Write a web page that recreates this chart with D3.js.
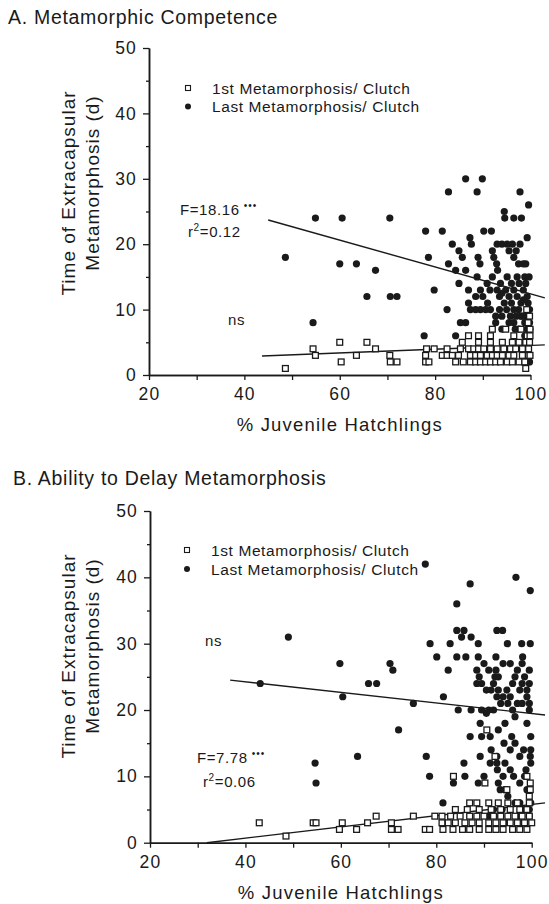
<!DOCTYPE html>
<html><head><meta charset="utf-8">
<script src="https://cdn.jsdelivr.net/npm/d3@7"></script>
<style>
html,body{margin:0;padding:0;background:#fff;}
text{font-family:"Liberation Sans",Arial,Helvetica,sans-serif;fill:#1a1a1a;}
</style></head>
<body>
<svg id="c" width="549" height="904"></svg>
<script>
// ---------- DATA ----------
const xTicks = [20,40,60,80,100];
const xMinor = [30,50,70,90];
const yTicks = [0,10,20,30,40,50];
const yMinor = [5,15,25,35,45];
const legendLabels = ["1st Metamorphosis/ Clutch","Last Metamorphosis/ Clutch"];
const titleA = "A.  Metamorphic Competence";
const titleB = "B.  Ability to Delay Metamorphosis";
const xLabel = "% Juvenile Hatchlings";
const yLabel1 = "Time  of Extracapsular";
const yLabel2 = "Metamorphosis (d)";

// Panel A: 1st metamorphosis (open squares)
const aFirst = [[48.6,1],[54.4,4],[54.9,3],[60,5],[60.3,2],[63.5,3],[65.7,5],[67.5,4],[70.5,3],[70.6,2],[72,2],[78,3],[78,2],[78.7,2],[78.2,4],[79.8,4],[81.5,3],[82.5,4],[82.5,3],[83.6,3],[84.3,2],[85.9,2],
[84.9,3],[85.3,4],[85.7,5],[87,6],[87,4],[87.4,3],[87.4,2],[88.1,4],[88.5,3],[88.5,2],[89.1,6],[89.1,5],[89.1,4],[89.5,3],[89.5,2],[90.2,4],[90.6,2],[90.9,3],[91.6,6],[91.6,5],[91.6,4],[91.6,2],[92,7],[92,3],[92.7,2],[93,4],[93,3],[93.7,2],[94.1,5],[94.1,3],[94.4,4],[94.8,7],[95.1,2],[95.5,3],[95.8,4],[96.2,5],[96.2,2],[96.5,6],[96.5,3],[96.9,4],[97.6,5],[97.6,2],[98,7],[98.3,4],[98.3,3],[99,5],[99,2],[99,1],[99.3,6],[99.6,4],[99.6,3],[99.5,8],[99.8,9],[99.2,10],[99.8,5],[98.8,2],[99.9,3],[99.9,6],[99.9,7]];
// Panel A: last metamorphosis (filled circles)
const aLast = [[48.6,18],[54.4,8],[54.9,24],[60.5,24],[60,17],[63.5,17],[65.7,12],[67.5,16],[70.5,24],[70.6,12],[72,12],[77.7,6],[78,22],[78.6,18],[79.8,13],[81.5,22],[82.5,10],[82.8,28],[82.8,17],[84.3,16],[84.3,6],[85,19],[85,14],[85.3,8],[85.7,18],[86.4,30],[86.4,16],[86.4,8],[87,13],[87,11],[87.3,21],[87.6,20],[83.6,20],[88.5,12],[88.8,28],[88.8,15],[89,18],[89.4,17],[89.9,30],[90.2,22],[90.9,14],[91.8,22],[92,19],[92.3,18],[92.9,17],[93.1,16],[93,20],[94,20],[95.1,20],[96.2,20],[97.8,20],[94.5,25],[94.6,24],[96.5,24],[98.1,24],[97.8,28],[99.6,26],[99.3,21],[95.1,15],[97.2,15],[93.7,14],[99,14],[94.8,13],[96.5,13],[98.5,13],[93.5,12],[95.5,12],[97.2,12],[99.3,12],[94.5,11],[96,11],[98,11],[99.5,11],[87.4,10],[88.5,10],[89.5,10],[90.6,10],[91.6,10],[95,10],[97.5,10],[99.5,10],[92.7,9],[95.8,9],[98.3,9],[99.6,9],[92.7,8],[96.5,8],[98.8,8],[99.8,8],[94,7],[97.6,7],[99.3,7],[99.9,7],[98.8,6],[99.5,6],[98.5,5],[99.6,5],[99,4],[97.5,17],[99,17],[96.5,18],
[99.8,2],[99.8,3],[99.8,10],[99.2,9],[98,9],[97,9],[96.8,7],[95.5,8],[94,9],[93.5,10],[91,11],[90,12],[89.5,13],[91.5,13],[92,15],[96,14],[97.6,14],[98.5,17],[95.5,19],[97,19],[98.8,15],[99.7,15],[94,12.5],[96.5,10],[98.5,11.5],[93,13]];
const aLineFirst = [[43.7,2.9],[103,4.6]];
const aLineLast = [[45,23.7],[103,11.8]];

// Panel B: 1st metamorphosis (open squares)
const bFirst = [[42.9,3],[48.5,1],[54.2,3],[54.8,3],[59.7,2],[60.3,3],[63.3,2],[65.6,3],[67.4,4],[70.6,3],[70.6,2],[72,2],[75.2,4],[77.7,2],[78.6,2],[79.7,4],[81.2,4],[81.2,3],[82.5,3],[81.4,2],[83.5,2],[85.5,2],[87,2],
[87,6],[88.5,6],[91,6],[93,6],[95,6],[97,6],[99.5,6],
[84,5],[86.5,5],[89,5],[91.5,5],[93.5,5],[95.5,5],[97.5,5],[99,5],
[83,4],[85,4],[87,4],[88.5,4],[90,4],[92,4],[93.5,4],[95,4],[96.5,4],[98,4],[99.5,4],
[84,3],[86,3],[87.5,3],[89,3],[91,3],[92.5,3],[94,3],[95.5,3],[97,3],[98.5,3],[100,3],
[89,2],[91,2],[92.5,2],[94,2],[96,2],[97.5,2],[99,2],
[83.6,10],[90.2,9],[92.3,13],[94.8,8],[99,10],[99.7,9],[99.7,8],[99.5,7],[90.6,17]];
// Panel B: last metamorphosis (filled circles)
const bLast = [[43.1,24],[49,31],[54.6,12],[54.8,9],[59.8,27],[60.4,22],[63.5,13],[65.8,24],[67.5,24],[70.3,27],[70.9,26],[72.1,17],[75.2,21],[77.7,42],[77.9,13],[78.6,10],[78.7,30],[80.1,28],[81.4,6],[81.5,22],[82.5,26],[82.9,30],[83.6,9],[84.3,36],[84.3,28],[84.3,32],[84.6,20],[85.3,31],[85.8,32],[85.8,12],[86,10],[86.2,28],[87.1,39],[87.1,16],[87.3,31],[87.3,20],[88.8,30],[88.8,28],[88.8,9],[89.2,18],[89.2,13],[89.5,16],[91.3,16],[91.3,12],[92.5,28],[92.7,32],[92.7,22],[92.7,13],[92.7,12],[92.8,11],[93,17],[93,9],[93.4,8],[93.9,32],[94.2,15],[94.4,18],[94.4,12],[94.4,8],[94.9,30],[95.8,16],[96.2,10],[96.5,15],[96.7,40],[97.9,30],[98.1,28],[98.3,14],[99,22],[99.7,38],[99.7,30],[99.7,13],
[88.5,26],[89,25],[89.5,24],[90.5,23],[91.5,23],[92,24],[92.3,25],[92.5,26],[93,25],[94.8,23],[96.5,25],[97,26],[98,24],[98.5,25],[99,23],[88.5,24],
[89.5,20],[90.5,19.5],[91,20],[92,20],[93.5,21],[95,21],[96,20],[98,21],[99.5,20],[99.5,21],[96.5,19],[99,18],
[91.5,14],[95.5,14],[97.5,13],[90,10],[98.5,10],[95,7],[97.5,6],[98.5,5],[99.5,5],[93.8,5],[92,5],[93.5,4],[96.5,6],[97.5,4],[98.5,3],[99.5,4],[99.8,6],[94.5,3],[96,2],[91,4],
[90,27],[91,26],[94,27],[95.5,27],[96,24],[97.5,23],[98,27],[99.5,26],[99.5,24],[93,23],[94,22],[95.5,22],[97,21],[99.8,16],[99.8,14],[99.8,12],[98.8,11],[97.5,9],[99,8],[95.5,11],[94,10]];
const bLineFirst = [[31.9,0],[102.8,6.0]];
const bLineLast = [[36.8,24.5],[102.8,19.25]];

// ---------- DRAW ----------
const svg = d3.select("#c");

function panel(cfg){
  const g = svg.append("g");
  const x = d3.scaleLinear().domain([20,100]).range(cfg.xr);
  const y = d3.scaleLinear().domain([0,50]).range(cfg.yr);
  const ink = "#1a1a1a";

  g.append("text").attr("x", cfg.titleX).attr("y", cfg.titleY)
    .attr("font-size", 19.5).attr("letter-spacing", 0.7).text(cfg.title);

  g.append("g").attr("transform", `translate(${cfg.xr[0]},0)`)
    .call(d3.axisLeft(y).tickValues(yTicks).tickSize(6).tickSizeOuter(0).tickPadding(6));
  g.append("g").attr("transform", `translate(${cfg.xr[0]},0)`)
    .call(d3.axisLeft(y).tickValues(yMinor).tickSize(3).tickSizeOuter(0).tickFormat(""));
  g.append("g").attr("transform", `translate(0,${cfg.yr[0]})`)
    .call(d3.axisBottom(x).tickValues(xTicks).tickSize(5).tickSizeOuter(0).tickPadding(8));
  g.append("g").attr("transform", `translate(0,${cfg.yr[0]})`)
    .call(d3.axisBottom(x).tickValues(xMinor).tickSize(5).tickSizeOuter(0).tickFormat(""));
  g.selectAll(".domain").attr("stroke", ink).attr("stroke-width", 1.5);
  g.selectAll(".tick line").attr("stroke", ink).attr("stroke-width", 1.3);
  g.selectAll(".tick text").attr("font-size", 17.5).attr("letter-spacing", 1.2)
    .attr("fill", ink).style("font-family", '"Liberation Sans",Arial,sans-serif');

  g.append("text").attr("x", (cfg.xr[0]+cfg.xr[1])/2).attr("y", cfg.xLabY)
    .attr("text-anchor","middle").attr("font-size", 18.5).attr("letter-spacing", 1.2).text(xLabel);
  g.append("text").attr("transform", `translate(${cfg.yl1x},${cfg.ylY}) rotate(-90)`)
    .attr("text-anchor","middle").attr("dominant-baseline","central")
    .attr("font-size", 19).attr("letter-spacing", 1).text(yLabel1);
  g.append("text").attr("transform", `translate(${cfg.yl2x},${cfg.ylY - 10}) rotate(-90)`)
    .attr("text-anchor","middle").attr("dominant-baseline","central")
    .attr("font-size", 19).attr("letter-spacing", 1).text(yLabel2);

  const line = d3.line().x(d=>x(d[0])).y(d=>y(d[1]));
  [cfg.lineFirst, cfg.lineLast].forEach(L=>{
    g.append("path").attr("d", line(L)).attr("fill","none").attr("stroke", ink).attr("stroke-width",1.4);
  });

  g.append("g").selectAll("circle").data(cfg.last).join("circle")
    .attr("cx", d=>x(d[0])).attr("cy", d=>y(d[1])).attr("r", 3.6).attr("fill", ink);
  g.append("g").selectAll("rect").data(cfg.first).join("rect")
    .attr("x", d=>x(d[0])-2.9).attr("y", d=>y(d[1])-2.9).attr("width",5.8).attr("height",5.8)
    .attr("fill","#fff").attr("stroke", ink).attr("stroke-width",1.3);

  const lg = g.append("g");
  lg.append("rect").attr("x", cfg.legX-2.5).attr("y", cfg.legY-2.5).attr("width",5).attr("height",5)
    .attr("fill","#fff").attr("stroke", ink).attr("stroke-width",1.1);
  lg.append("circle").attr("cx", cfg.legX).attr("cy", cfg.legY+cfg.legGap).attr("r",3).attr("fill", ink);
  lg.append("text").attr("x", cfg.legX+24).attr("y", cfg.legY+5.5).attr("font-size",15.5).attr("letter-spacing",0.6).text(legendLabels[0]);
  lg.append("text").attr("x", cfg.legX+24).attr("y", cfg.legY+cfg.legGap+5.5).attr("font-size",15.5).attr("letter-spacing",0.6).text(legendLabels[1]);

  cfg.notes.forEach(n=>{
    const t = g.append("text").attr("x", n.x).attr("y", n.y).attr("font-size", 15).attr("letter-spacing",0.6);
    if (n.sup2) {
      t.append("tspan").text("r");
      t.append("tspan").attr("font-size",10).attr("dy",-6).text("2");
      t.append("tspan").attr("dy",6).text(n.text);
    } else {
      t.append("tspan").text(n.text);
      if (n.stars) t.append("tspan").attr("font-size",10).attr("dy",-6).attr("dx",4).attr("letter-spacing",1).text("•••");
    }
  });
}

panel({
  xr:[149,530.5], yr:[375,48], title:titleA, titleX:8, titleY:24,
  xLabY:431, yl1x:68, yl2x:92, ylY:193,
  first:aFirst, last:aLast, lineFirst:aLineFirst, lineLast:aLineLast,
  legX:188, legY:88, legGap:18.5,
  notes:[{x:180,y:215,text:"F=18.16",stars:true},{x:188,y:237,text:"=0.12",sup2:true},{x:228,y:325,text:"ns"}]
});
panel({
  xr:[150,531.7], yr:[842.7,511], title:titleB, titleX:13, titleY:485,
  xLabY:899, yl1x:68, yl2x:92, ylY:656,
  first:bFirst, last:bLast, lineFirst:bLineFirst, lineLast:bLineLast,
  legX:187, legY:550, legGap:19,
  notes:[{x:205,y:646,text:"ns"},{x:197,y:763,text:"F=7.78",stars:true},{x:203,y:787,text:"=0.06",sup2:true}]
});
</script>
</body></html>
